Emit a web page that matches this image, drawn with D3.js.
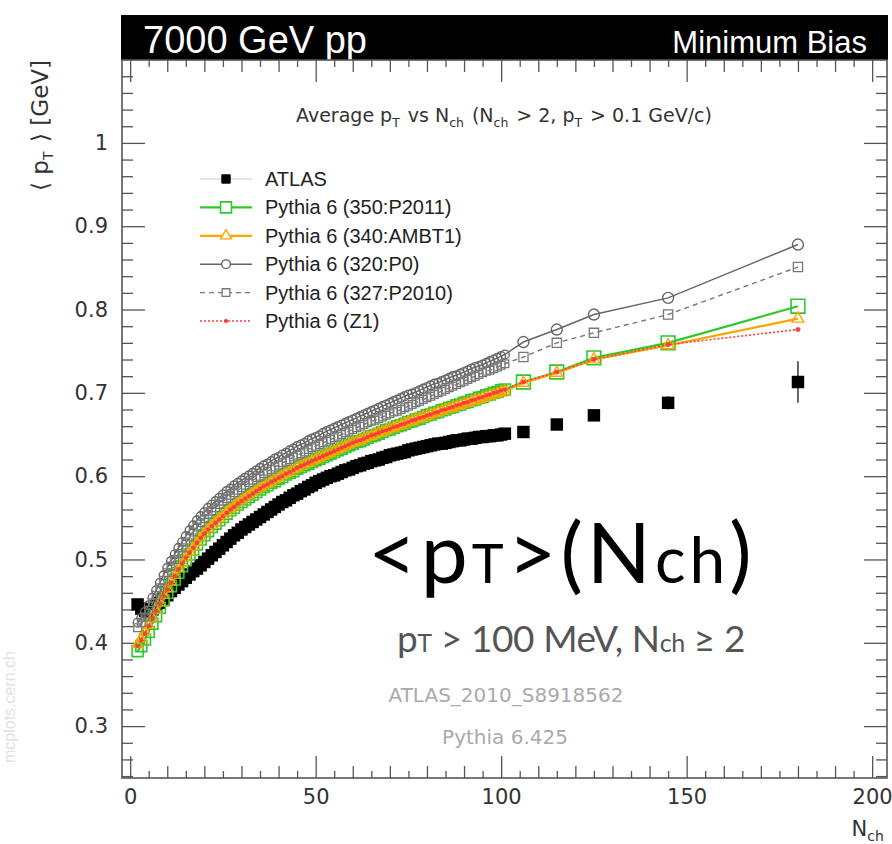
<!DOCTYPE html>
<html>
<head>
<meta charset="utf-8">
<script src="https://cdn.jsdelivr.net/npm/d3@7"></script>
<style>
  body { margin: 0; background: #fff; }
  text { font-family: "Liberation Sans", Arial, sans-serif; }
</style>
</head>
<body>
<svg id="chart" width="892" height="844"></svg>
<script>
/* global d3 */

// bin centres: fine bins 2..101, then wide bins
var nchFine = [2,3,4,5,6,7,8,9,10,11,12,13,14,15,16,17,18,19,20,21,22,23,24,25,26,27,28,29,30,
  31,32,33,34,35,36,37,38,39,40,41,42,43,44,45,46,47,48,49,50,51,52,53,54,55,56,57,58,59,60,
  61,62,63,64,65,66,67,68,69,70,71,72,73,74,75,76,77,78,79,80,81,82,83,84,85,86,87,88,89,90,
  91,92,93,94,95,96,97,98,99,100,101];
var nchWide = [106, 115, 125, 145, 180];

var atlasFine = [0.446,0.441,0.438,0.438,0.440,0.444,0.448,0.453,0.457,0.462,0.466,0.470,0.474,0.478,0.482,0.486,0.489,0.493,0.497,
  0.501,0.505,0.509,0.513,0.517,0.521,0.525,0.529,0.532,0.536,0.539,0.542,0.545,0.548,0.551,0.554,0.557,0.560,0.563,0.566,
  0.569,0.571,0.574,0.577,0.579,0.582,0.584,0.587,0.589,0.592,0.594,0.596,0.598,0.600,0.601,0.603,0.605,0.607,0.608,0.610,
  0.612,0.613,0.615,0.616,0.618,0.619,0.620,0.622,0.623,0.625,0.626,0.627,0.628,0.629,0.631,0.632,0.633,0.634,0.635,0.636,
  0.637,0.638,0.639,0.639,0.640,0.641,0.642,0.643,0.643,0.644,0.645,0.645,0.646,0.647,0.647,0.648,0.648,0.649,0.649,0.650,0.651];
var atlasWide = [0.653, 0.662, 0.673, 0.688, 0.713];
var atlasWideErr = [0.004, 0.005, 0.006, 0.008, 0.025];

var p2011Fine = [0.390,0.396,0.404,0.413,0.423,0.432,0.442,0.451,0.460,0.468,0.476,0.484,0.492,0.499,0.506,0.512,0.518,0.524,0.529,
  0.534,0.539,0.543,0.547,0.551,0.555,0.559,0.562,0.566,0.569,0.572,0.575,0.578,0.581,0.584,0.587,0.589,0.592,0.594,0.597,
  0.599,0.602,0.604,0.606,0.609,0.611,0.613,0.615,0.617,0.619,0.621,0.623,0.625,0.627,0.629,0.631,0.633,0.635,0.637,0.639,
  0.641,0.642,0.644,0.646,0.648,0.649,0.651,0.653,0.655,0.656,0.658,0.660,0.661,0.663,0.665,0.666,0.668,0.669,0.671,0.673,
  0.674,0.676,0.677,0.679,0.680,0.682,0.683,0.685,0.686,0.688,0.689,0.691,0.692,0.694,0.695,0.697,0.698,0.700,0.701,0.703,0.704];
var p2011Wide = [0.713, 0.725, 0.742, 0.760, 0.804];

var ambt1Fine = [0.398,0.405,0.413,0.421,0.430,0.439,0.448,0.457,0.465,0.473,0.481,0.489,0.496,0.503,0.509,0.515,0.521,0.527,0.532,
  0.537,0.541,0.545,0.549,0.553,0.557,0.561,0.564,0.568,0.571,0.574,0.577,0.580,0.583,0.586,0.588,0.591,0.593,0.596,0.598,
  0.601,0.603,0.605,0.608,0.610,0.612,0.614,0.616,0.618,0.620,0.622,0.624,0.626,0.628,0.630,0.632,0.634,0.636,0.638,0.640,
  0.641,0.643,0.645,0.647,0.648,0.650,0.652,0.653,0.655,0.657,0.658,0.660,0.661,0.663,0.665,0.666,0.668,0.669,0.671,0.672,
  0.674,0.675,0.677,0.678,0.680,0.681,0.682,0.684,0.685,0.687,0.688,0.690,0.691,0.692,0.694,0.695,0.697,0.698,0.699,0.701,0.702];
var ambt1Wide = [0.712, 0.724, 0.740, 0.757, 0.789];

var p0Fine = [0.424,0.430,0.437,0.445,0.454,0.463,0.472,0.481,0.490,0.498,0.506,0.514,0.521,0.528,0.535,0.541,0.547,0.552,0.557,
  0.562,0.566,0.570,0.574,0.578,0.582,0.585,0.589,0.592,0.595,0.598,0.601,0.604,0.607,0.610,0.613,0.615,0.618,0.621,0.623,
  0.626,0.628,0.631,0.633,0.636,0.638,0.640,0.643,0.645,0.647,0.649,0.652,0.654,0.656,0.658,0.660,0.662,0.664,0.666,0.668,
  0.670,0.672,0.674,0.676,0.678,0.680,0.682,0.684,0.686,0.688,0.690,0.692,0.694,0.696,0.698,0.699,0.701,0.703,0.705,0.707,
  0.709,0.711,0.712,0.714,0.716,0.718,0.720,0.721,0.723,0.725,0.727,0.729,0.731,0.732,0.734,0.736,0.738,0.740,0.742,0.744,0.746];
var p0Wide = [0.761, 0.776, 0.794, 0.814, 0.878];

var p2010Fine = [0.418,0.424,0.431,0.439,0.448,0.457,0.466,0.475,0.484,0.492,0.500,0.507,0.514,0.521,0.527,0.533,0.539,0.544,0.549,
  0.554,0.558,0.562,0.566,0.570,0.573,0.577,0.580,0.583,0.586,0.589,0.592,0.595,0.598,0.600,0.603,0.606,0.608,0.611,0.613,
  0.616,0.618,0.620,0.623,0.625,0.627,0.629,0.632,0.634,0.636,0.638,0.640,0.642,0.644,0.646,0.648,0.650,0.652,0.654,0.656,
  0.658,0.660,0.662,0.664,0.666,0.667,0.669,0.671,0.673,0.675,0.677,0.678,0.680,0.682,0.684,0.686,0.688,0.690,0.692,0.694,
  0.696,0.698,0.700,0.702,0.704,0.706,0.708,0.710,0.712,0.714,0.716,0.718,0.720,0.722,0.724,0.726,0.727,0.729,0.731,0.733,0.735];
var p2010Wide = [0.743, 0.760, 0.772, 0.794, 0.851];

var z1Fine = [0.396,0.403,0.411,0.420,0.429,0.438,0.447,0.456,0.464,0.472,0.480,0.488,0.495,0.502,0.508,0.514,0.520,0.526,0.531,
  0.536,0.540,0.544,0.548,0.552,0.556,0.560,0.563,0.567,0.570,0.573,0.576,0.579,0.582,0.585,0.588,0.590,0.593,0.595,0.598,
  0.600,0.603,0.605,0.607,0.610,0.612,0.614,0.616,0.618,0.620,0.622,0.624,0.626,0.628,0.630,0.632,0.634,0.636,0.638,0.640,
  0.642,0.643,0.645,0.647,0.649,0.650,0.652,0.654,0.655,0.657,0.659,0.660,0.662,0.663,0.665,0.667,0.668,0.670,0.671,0.673,
  0.674,0.676,0.677,0.679,0.680,0.682,0.683,0.685,0.686,0.688,0.689,0.691,0.692,0.694,0.695,0.697,0.698,0.700,0.701,0.703,0.704];
var z1Wide = [0.713, 0.725, 0.740, 0.758, 0.776];

var yTicks = [0.3, 0.4, 0.5, 0.6, 0.7, 0.8, 0.9, 1];
var xTicks = [0, 50, 100, 150, 200];

var frame = { left: 122, right: 887, top: 60, bottom: 778 };

var x = d3.scaleLinear().domain([-2.2, 204]).range([frame.left, frame.right]);
var y = d3.scaleLinear().domain([0.2377, 1.0995]).range([frame.bottom, frame.top]);

var svg = d3.select("#chart");
var wide = "'DejaVu Sans', Verdana, sans-serif";

// small helper: text made of plain and subscript pieces
function richText(sel, parts, subSize, subDy) {
  parts.forEach(function(p) {
    if (typeof p === "string") {
      sel.append("tspan").text(p);
    } else {
      sel.append("tspan").attr("font-size", subSize).attr("dy", subDy).text(p.sub);
      sel.append("tspan").attr("dy", -subDy).text("\u200a");
    }
  });
  return sel;
}

// watermark
svg.append("text")
  .attr("transform", "translate(15,707) rotate(-90)")
  .attr("text-anchor", "middle")
  .style("font-size", "16px")
  .style("fill", "#e2e2e2")
  .text("mcplots.cern.ch");

// header bar
svg.append("rect")
  .attr("x", 121).attr("y", 15)
  .attr("width", 767).attr("height", 45)
  .style("fill", "#000");
svg.append("text")
  .attr("x", 143).attr("y", 53)
  .style("font-size", "38px").style("fill", "#fff")
  .text("7000 GeV pp");
svg.append("text")
  .attr("x", 867).attr("y", 53)
  .attr("text-anchor", "end")
  .style("font-size", "31px").style("fill", "#fff")
  .text("Minimum Bias");

// axes, ROOT style: ticks inside on all four sides
var g = svg.append("g");
var tickColor = "#555";

function minorTicks(lo, hi, step) {
  var out = [];
  for (var v = lo; v <= hi + 1e-9; v += step) out.push(+v.toFixed(4));
  return out;
}
var xMid = minorTicks(0, 200, 10).filter(function(v) { return v % 50 !== 0; });
var xSmall = minorTicks(5, 195, 10);
var yMinor = minorTicks(0.24, 1.08, 0.02).filter(function(v) { return Math.abs(v * 10 - Math.round(v * 10)) > 1e-6; });

function drawAxis(axisFn, scale, pos, ticks, size, labels, pad) {
  var a = axisFn(scale).tickValues(ticks).tickSize(size).tickPadding(pad || 0);
  if (!labels) a.tickFormat("");
  else a.tickFormat(labels);
  var sel = g.append("g").attr("transform", pos).call(a);
  sel.select(".domain").remove();
  sel.selectAll("line").style("stroke", tickColor).style("stroke-width", 1.3);
  sel.selectAll("text").style("font-size", "21px").style("fill", "#333")
    .style("font-family", wide);
  return sel;
}

var fmtY = function(d) { return d === 1 ? "1" : d3.format(".1f")(d); };
drawAxis(d3.axisBottom, x, "translate(0," + frame.bottom + ")", xTicks, -22, d3.format("d"), 11);
drawAxis(d3.axisBottom, x, "translate(0," + frame.bottom + ")", xMid, -12);
drawAxis(d3.axisBottom, x, "translate(0," + frame.bottom + ")", xSmall, -7);
drawAxis(d3.axisTop, x, "translate(0," + frame.top + ")", xTicks, -22);
drawAxis(d3.axisTop, x, "translate(0," + frame.top + ")", xMid, -12);
drawAxis(d3.axisTop, x, "translate(0," + frame.top + ")", xSmall, -7);
drawAxis(d3.axisLeft, y, "translate(" + frame.left + ",0)", yTicks, -23, fmtY, 14);
drawAxis(d3.axisLeft, y, "translate(" + frame.left + ",0)", yMinor, -11);
drawAxis(d3.axisRight, y, "translate(" + frame.right + ",0)", yTicks, -23);
drawAxis(d3.axisRight, y, "translate(" + frame.right + ",0)", yMinor, -11);

g.append("rect")
  .attr("x", frame.left).attr("y", frame.top)
  .attr("width", frame.right - frame.left).attr("height", frame.bottom - frame.top)
  .style("fill", "none").style("stroke", tickColor).style("stroke-width", 1.6);

// axis titles
var yLab = svg.append("text")
  .attr("transform", "translate(48,60) rotate(-90)")
  .attr("text-anchor", "end")
  .style("font-family", wide)
  .style("font-size", "23px").style("fill", "#333");
richText(yLab, ["\u27e8 p", { sub: "T" }, " \u27e9 [GeV]"], "14px", 5);

var xLab = svg.append("text")
  .attr("x", 886).attr("y", 836)
  .attr("text-anchor", "end")
  .style("font-family", wide)
  .style("font-size", "21px").style("fill", "#333");
richText(xLab, ["N", { sub: "ch" }], "14px", 5);

// plot title
var title = svg.append("text")
  .attr("x", 504).attr("y", 122)
  .attr("text-anchor", "middle")
  .style("font-family", wide)
  .style("font-size", "19px").style("fill", "#333");
richText(title, ["Average p", { sub: "T" }, " vs N", { sub: "ch" }, " (N", { sub: "ch" },
  " > 2, p", { sub: "T" }, " > 0.1 GeV/c)"], "12.5px", 5);

// series
function pts(xs, ys) { return xs.map(function(v, i) { return [v, ys[i]]; }); }

var series = [
  { name: "Pythia 6 (350:P2011)", fine: p2011Fine, wide: p2011Wide, color: "#2ec82e", width: 2.2, dash: null,
    symbol: d3.symbolSquare, size: 120, wideSize: 190, fill: "none", mw: 1.6 },
  { name: "Pythia 6 (340:AMBT1)", fine: ambt1Fine, wide: ambt1Wide, color: "#ffa500", width: 2.2, dash: null,
    symbol: d3.symbolTriangle, size: 50, wideSize: 60, fill: "none", mw: 1.4 },
  { name: "Pythia 6 (320:P0)", fine: p0Fine, wide: p0Wide, color: "#666", width: 1.5, dash: null,
    symbol: d3.symbolCircle, size: 60, wideSize: 95, fill: "none", mw: 1.4 },
  { name: "Pythia 6 (327:P2010)", fine: p2010Fine, wide: p2010Wide, color: "#777", width: 1.4, dash: "5,4",
    symbol: d3.symbolSquare, size: 60, wideSize: 85, fill: "none", mw: 1.3 },
  { name: "Pythia 6 (Z1)", fine: z1Fine, wide: z1Wide, color: "#ff3b3b", width: 1.6, dash: "2,2",
    symbol: d3.symbolCircle, size: 10, wideSize: 14, fill: "#ff3b3b", mw: 0.8 }
];

var line = d3.line().x(function(d) { return x(d[0]); }).y(function(d) { return y(d[1]); });
var plot = svg.append("g");

// ATLAS data
var atlasPts = pts(nchFine, atlasFine).concat(pts(nchWide, atlasWide));
plot.selectAll(".err")
  .data(pts(nchWide, atlasWide).map(function(d, i) { return [d[0], d[1], atlasWideErr[i]]; }))
  .enter().append("line")
  .attr("x1", function(d) { return x(d[0]); }).attr("x2", function(d) { return x(d[0]); })
  .attr("y1", function(d) { return y(d[1] - d[2]); }).attr("y2", function(d) { return y(d[1] + d[2]); })
  .style("stroke", "#000").style("stroke-width", 1.2);
plot.selectAll(".atlas")
  .data(atlasPts)
  .enter().append("path")
  .attr("transform", function(d) { return "translate(" + x(d[0]) + "," + y(d[1]) + ")"; })
  .attr("d", d3.symbol().type(d3.symbolSquare).size(155))
  .style("fill", "#000");

series.forEach(function(s) {
  var data = pts(nchFine, s.fine).concat(pts(nchWide, s.wide));
  var sg = plot.append("g");
  sg.append("path")
    .datum(data)
    .attr("d", line)
    .style("fill", "none")
    .style("stroke", s.color)
    .style("stroke-width", s.width)
    .style("stroke-dasharray", s.dash);
  sg.selectAll("path.m")
    .data(data)
    .enter().append("path")
    .attr("class", "m")
    .attr("transform", function(d) { return "translate(" + x(d[0]) + "," + y(d[1]) + ")"; })
    .attr("d", function(d) { return d3.symbol().type(s.symbol).size(d[0] > 101 ? s.wideSize : s.size)(); })
    .style("fill", s.fill)
    .style("stroke", s.color)
    .style("stroke-width", s.mw);
});

// legend
var legend = svg.append("g");
var legendRows = [{ name: "ATLAS", atlas: true }].concat(series);
legendRows.forEach(function(s, i) {
  var ly = 179 + i * 28.4;
  var row = legend.append("g").attr("transform", "translate(0," + ly + ")");
  row.append("line")
    .attr("x1", 200).attr("x2", 252).attr("y1", 0).attr("y2", 0)
    .style("stroke", s.atlas ? "#ccc" : s.color)
    .style("stroke-width", s.atlas ? 1.2 : s.width)
    .style("stroke-dasharray", s.atlas ? null : s.dash);
  row.append("path")
    .attr("transform", "translate(226,0)")
    .attr("d", d3.symbol().type(s.atlas ? d3.symbolSquare : s.symbol).size(s.atlas ? 70 : s.size))
    .style("fill", s.atlas ? "#000" : (s.fill === "none" ? "#fff" : s.fill))
    .style("stroke", s.atlas ? "#000" : s.color)
    .style("stroke-width", s.atlas ? 1 : s.mw);
  row.append("text")
    .attr("x", 265).attr("y", 7)
    .style("font-size", "20px").style("fill", "#222")
    .text(s.name);
});

// annotation text
var big = svg.append("text")
  .attr("x", 368).attr("y", 583)
  .style("font-family", "Lato, 'Open Sans', sans-serif")
  .style("font-size", "84px").style("letter-spacing", "4px").style("fill", "#000");
big.append("tspan").text("<p");
big.append("tspan").style("font-size", "54px").text("T");
big.append("tspan").text(">(N");
big.append("tspan").style("font-size", "64px").text("ch");
big.append("tspan").text(")");

var sub = svg.append("text")
  .attr("x", 397).attr("y", 652)
  .style("font-family", "Lato, 'Open Sans', sans-serif")
  .style("font-size", "37px").style("letter-spacing", "-0.4px").style("fill", "#555");
sub.append("tspan").text("p");
sub.append("tspan").style("font-size", "25px").text("T");
sub.append("tspan").text(" > 100 MeV, N");
sub.append("tspan").style("font-size", "25px").text("ch");
sub.append("tspan").text(" \u2265 2");

svg.append("text")
  .attr("x", 506).attr("y", 702)
  .attr("text-anchor", "middle")
  .style("font-family", wide)
  .style("font-size", "20px").style("fill", "#aaa")
  .text("ATLAS_2010_S8918562");
svg.append("text")
  .attr("x", 505).attr("y", 744)
  .attr("text-anchor", "middle")
  .style("font-family", wide)
  .style("font-size", "20px").style("fill", "#aaa")
  .text("Pythia 6.425");
</script>
</body>
</html>
